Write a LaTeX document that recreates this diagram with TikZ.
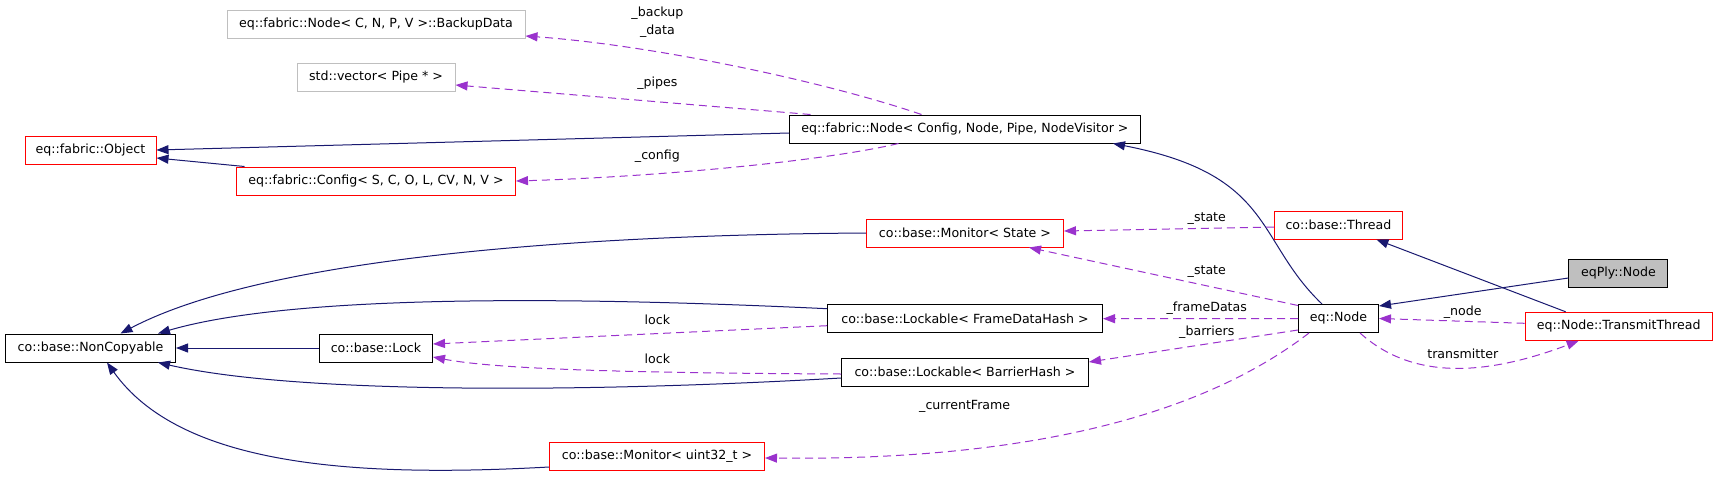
\documentclass[tikz,border=0pt]{standalone}
\usepackage{fontspec}
\setmainfont{DejaVu Sans}
\usetikzlibrary{arrows.meta}
\definecolor{edgeblue}{HTML}{191970}
\definecolor{edgepurple}{HTML}{9A32CD}
\definecolor{boxgray}{HTML}{BFBFBF}

\begin{document}
\begin{tikzpicture}[
  x=1pt, y=-1pt,
  font=\fontsize{12.6}{14}\selectfont,
  cls/.style={draw=black, line width=1pt, minimum height=28pt, inner sep=0pt, align=center},
  redcls/.style={cls, draw=red},
  graycls/.style={cls, draw=boxgray},
  inh/.style={-{Triangle[length=12pt, width=9pt]}, edgeblue, line width=1pt},
  member/.style={-{Triangle[length=12pt, width=9pt]}, edgepurple, line width=1pt, dash pattern=on 8pt off 5pt},
  lbl/.style={inner sep=0pt, align=center, font=\fontsize{12.6}{18}\selectfont}
]
\path[use as bounding box, fill=white] (0,0) rectangle (1717,477);

% classes
\node[graycls, minimum width=298pt] (backup) at (376,24) {eq::fabric::Node< C, N, P, V >::BackupData};
\node[graycls, minimum width=158pt] (vec) at (376,77) {std::vector< Pipe * >};
\node[redcls, minimum width=131pt] (obj) at (90.5,150) {eq::fabric::Object};
\node[redcls, minimum width=279pt] (config) at (376,181) {eq::fabric::Config< S, C, O, L, CV, N, V >};
\node[cls, minimum width=351pt] (fnode) at (965,129) {eq::fabric::Node< Config, Node, Pipe, NodeVisitor >};
\node[redcls, minimum width=197pt] (mstate) at (965,233) {co::base::Monitor< State >};
\node[cls, minimum width=275pt] (lfd) at (965,318.7) {co::base::Lockable< FrameDataHash >};
\node[cls, minimum width=247pt] (lbh) at (965,372) {co::base::Lockable< BarrierHash >};
\node[cls, minimum width=170pt] (nc) at (90.5,348) {co::base::NonCopyable};
\node[cls, minimum width=113pt] (lock) at (376,348) {co::base::Lock};
\node[redcls, minimum width=215pt] (muint) at (657,456) {co::base::Monitor< uint32\_t >};
\node[redcls, minimum width=128pt] (thread) at (1338.4,225) {co::base::Thread};
\node[cls, minimum width=80pt] (eqnode) at (1338.5,318.5) {eq::Node};
\node[cls, fill=boxgray, minimum width=99pt] (eqply) at (1618.4,273) {eqPly::Node};
\node[redcls, minimum width=187pt] (tt) at (1618.7,326.3) {eq::Node::TransmitThread};

% inheritance
\draw[inh] ([yshift=-4pt]fnode.west) -- (obj.east);
\draw[inh] ([xshift=8.5pt]config.north west) -- ([yshift=-8pt]obj.east);
\draw[inh] (mstate.west) .. controls (560,235) and (260,260) .. ([xshift=30pt]nc.north);
\draw[inh] ([yshift=10pt]lfd.west) .. controls (600,298) and (300,292) .. ([xshift=-18pt]nc.north east);
\draw[inh] (lock.west) -- (nc.east);
\draw[inh] ([yshift=-6pt]lbh.west) .. controls (600,392) and (300,395) .. ([xshift=-18pt]nc.south east);
\draw[inh] ([yshift=-11pt]muint.west) .. controls (350,478) and (180,465) .. ([xshift=16.5pt]nc.south);
\draw[inh] ([xshift=-16.5pt]eqnode.north) .. controls (1255,240) and (1275,175) .. ([xshift=148pt]fnode.south);
\draw[inh] ([xshift=-53pt]tt.north) -- ([xshift=38pt]thread.south);
\draw[inh] ([yshift=-5pt]eqply.west) -- ([yshift=-2pt]eqnode.north east);

% members
\draw[member] ([xshift=-43.5pt]fnode.north) .. controls (820,80) and (650,45) .. ([yshift=-12pt]backup.east);
\draw[member] ([xshift=-154.5pt]fnode.north) -- ([yshift=-8pt]vec.east);
\draw[member] ([xshift=-66.5pt]fnode.south) .. controls (820,162) and (650,177) .. (config.east);
\draw[member] ([yshift=-2pt]thread.west) -- ([yshift=2pt]mstate.east);
\draw[member] ([yshift=-1.5pt]eqnode.north west) -- ([xshift=64pt]mstate.south);
\draw[member] (eqnode.west) -- (lfd.east);
\draw[member] ([yshift=3pt]eqnode.south west) -- ([yshift=10pt]lbh.east);
\draw[member] ([xshift=-29.5pt]eqnode.south) .. controls (1170,440) and (950,460) .. ([yshift=-2pt]muint.east);
\draw[member] ([yshift=3pt]tt.west) -- (eqnode.east);
\draw[member] ([xshift=21.5pt]eqnode.south) .. controls (1410,378) and (1480,378) .. ([xshift=-40pt]tt.south);
\draw[member] ([yshift=-7pt]lfd.west) -- ([yshift=4pt]lock.east);
\draw[member] ([yshift=-2pt]lbh.west) .. controls (650,373) and (500,370) .. ([yshift=-9pt]lock.east);

% labels
\node[lbl] (lbackup) at (657.4,21.7) {\_backup\\\_data};
\node[lbl] (lpipes) at (657.4,83.3) {\_pipes};
\node[lbl] (lconfig) at (657.4,155.7) {\_config};
\node[lbl] (lstate) at (1206.8,219) {\_state};
\node[lbl] (lstatetwo) at (1206.8,271.7) {\_state};
\node[lbl] (lframe) at (1206.8,308.3) {\_frameDatas};
\node[lbl] (lbarrier) at (1206.8,331.7) {\_barriers};
\node[lbl] (lnode) at (1462.8,311.7) {\_node};
\node[lbl] (ltrans) at (1462.8,354) {transmitter};
\node[lbl] (llock) at (657.4,319.3) {lock};
\node[lbl] (llocktwo) at (657.4,358.3) {lock};
\node[lbl] (lcur) at (964.7,406.7) {\_currentFrame};
\end{tikzpicture}
\end{document}
